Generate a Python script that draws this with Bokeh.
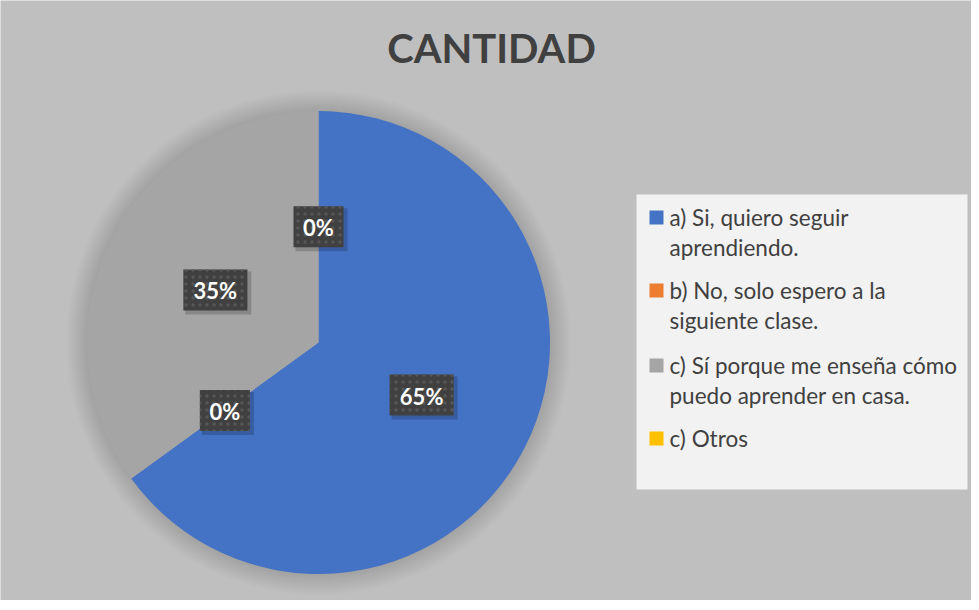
import math
from bokeh.plotting import figure
from bokeh.models import Range1d, ColumnDataSource
from bokeh.core.properties import value
from bokeh.embed import file_html
from bokeh.resources import INLINE

# ---- data ----
title = "CANTIDAD"
categories = [
    "a) Si, quiero seguir\naprendiendo.",
    "b) No, solo espero a la\nsiguiente clase.",
    "c) Sí porque me enseña cómo\npuedo aprender en casa.",
    "c) Otros",
]
values = [65, 0, 35, 0]
colors = ["#4472C4", "#ED7D31", "#A5A5A5", "#FFC000"]

W, H = 971, 600
BG = "#BFBFBF"
TXT = "#404040"

def X(px):
    return px - 8

def Y(py):
    return H + 8 - py

p = figure(width=W, height=H, output_backend="svg", toolbar_location=None,
           x_range=Range1d(0, W), y_range=Range1d(0, H),
           min_border=0, background_fill_color=BG, border_fill_color=BG,
           outline_line_color=None)
p.axis.visible = False
p.grid.visible = False

# ---- title ----
p.text(x=[X(499)], y=[Y(55)], text=[title], text_align="center",
       text_baseline="middle", text_font=value("Lato"),
       text_font_style="bold", text_font_size="40px", text_color=TXT)

# ---- pie ----
cx, cy, R = X(326), Y(350), 231.5
# soft glow around pie
for i in range(14, 0, -1):
    p.circle(x=[cx], y=[cy], radius=R + i * 1.5, fill_color="black",
             fill_alpha=0.007, line_color=None)

total = sum(values)
starts, ends, mids = [], [], []
acc = 0.0
for v in values:
    a0 = math.pi / 2 - 2 * math.pi * acc / total
    a1 = math.pi / 2 - 2 * math.pi * (acc + v) / total
    starts.append(a0)
    ends.append(a1)
    mids.append((a0 + a1) / 2)
    acc += v

nz = [i for i, v in enumerate(values) if v > 0]
src = ColumnDataSource(dict(start=[starts[i] for i in nz],
                            end=[ends[i] for i in nz],
                            color=[colors[i] for i in nz]))
p.wedge(x=cx, y=cy, radius=R, start_angle="start", end_angle="end",
        direction="clock", fill_color="color", line_color=None, source=src)

# ---- data labels ----
for v, m in zip(values, mids):
    lx = cx + 0.5 * R * math.cos(m)
    ly = cy + 0.5 * R * math.sin(m)
    lab = f"{v}%"
    bw = 64 if len(lab) == 3 else 50
    bh = 41
    p.rect(x=[lx + 3], y=[ly - 3], width=bw + 2, height=bh + 2,
           fill_color="black", fill_alpha=0.18, line_color=None)
    p.rect(x=[lx], y=[ly], width=bw, height=bh, fill_color="#404040",
           line_color=None, hatch_pattern="dot", hatch_color="#565656",
           hatch_scale=7, hatch_weight=1.5)
    p.text(x=[lx], y=[ly - 1], text=[lab], text_align="center",
           text_baseline="middle", text_font=value("Lato"),
           text_font_style="bold", text_font_size="22px", text_color="white")

# ---- legend ----
lx0, ly0, lx1, ly1 = 644, 202, 975, 497
p.quad(left=[X(lx0)], right=[X(lx1)], top=[Y(ly0)], bottom=[Y(ly1)],
       fill_color="#F2F2F2", line_color=None)
item_base = [232, 305, 380, 453]
line_gap = 29.5
for cat, col, b in zip(categories, colors, item_base):
    p.quad(left=[X(657)], right=[X(671)], top=[Y(b - 14)], bottom=[Y(b)],
           fill_color=col, line_color=None)
    for j, line in enumerate(cat.split("\n")):
        p.text(x=[X(677)], y=[Y(b - 7 + j * line_gap)], text=[line],
               text_align="left", text_baseline="middle",
               text_font=value("Lato"), text_font_size="22.5px",
               text_color=TXT)

open("out.html", "w").write(file_html(p, INLINE))
